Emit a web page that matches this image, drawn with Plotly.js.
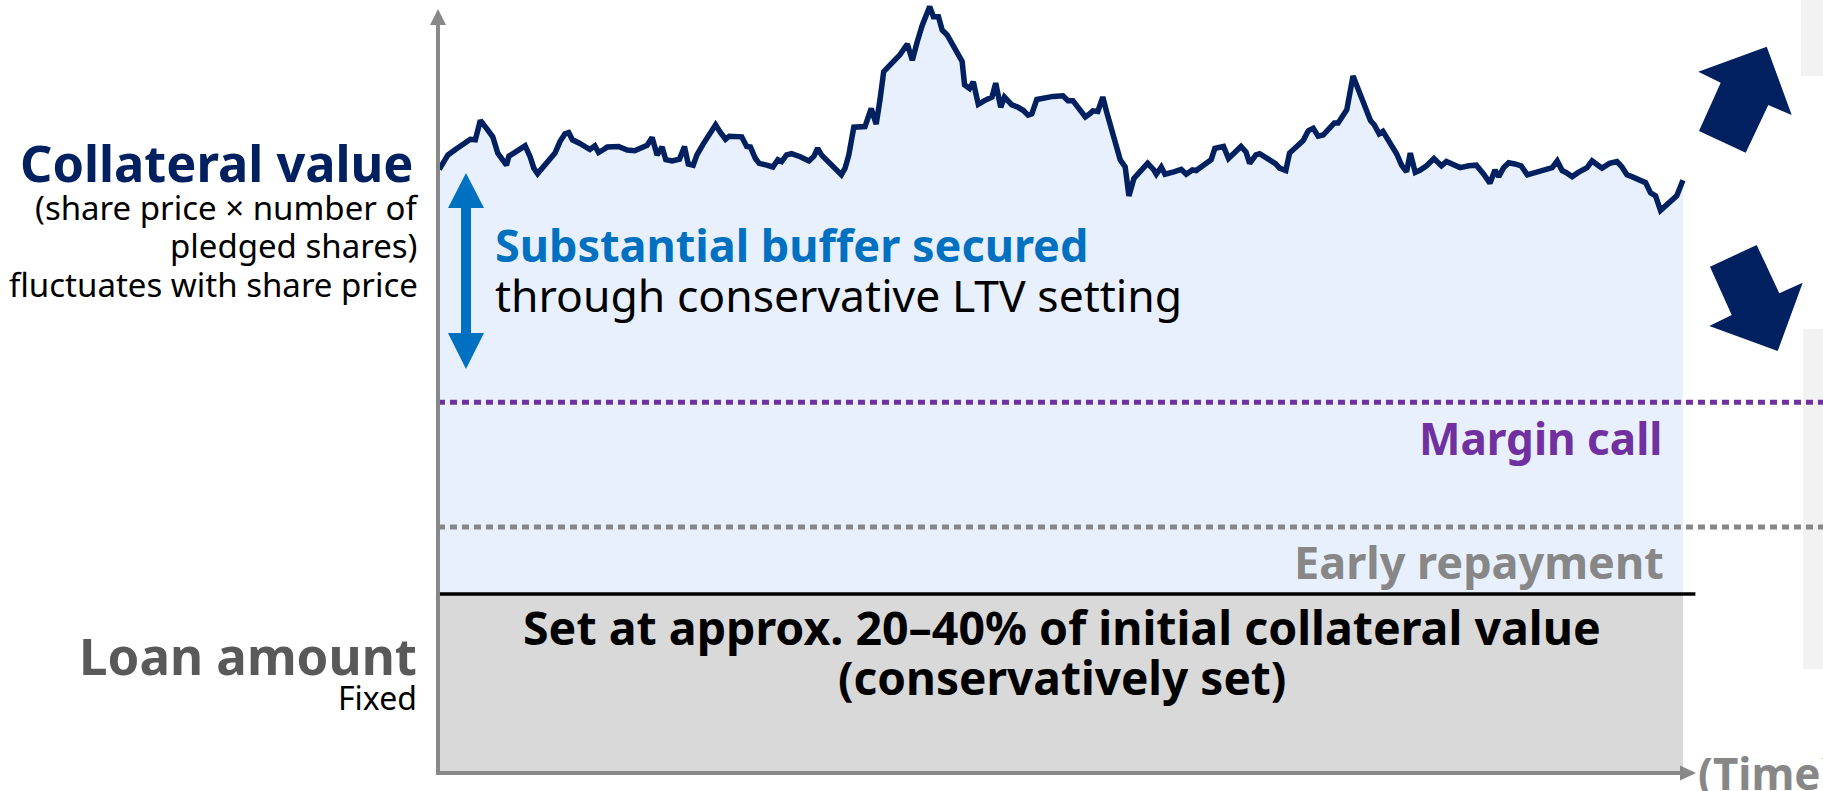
<!DOCTYPE html>
<html>
<head>
<meta charset="utf-8">
<script src="https://cdn.plot.ly/plotly-3.0.1.min.js"></script>
<style>
html,body{margin:0;padding:0;background:#ffffff;overflow:hidden}
#chart{width:1823px;height:791px}
</style>
</head>
<body>
<div id="chart"></div>
<script>
// ---------------- DATA ----------------
// time axis (arbitrary units: 0 = start, 100 = end of the drawn period)
const timePoints = [
  0.1,0.8,1.4,2.0,2.6,3.0,3.4,3.9,4.4,4.8,5.1,5.5,5.7,6.3,7.0,7.4,7.7,8.0,8.5,9.0,
  9.4,9.8,10.2,10.5,10.8,11.4,11.8,12.2,12.6,12.9,13.3,13.6,14.5,15.2,15.8,16.2,16.8,17.2,17.6,18.0,
  18.3,18.8,19.4,19.8,20.1,20.5,20.8,21.3,21.9,22.3,22.7,23.1,23.4,24.0,24.4,24.8,25.1,25.5,25.8,26.4,
  26.9,27.3,27.6,28.0,28.4,29.1,29.8,30.2,30.5,30.8,31.2,31.8,32.4,32.7,33.0,33.4,34.3,34.8,35.2,35.5,
  35.8,36.4,37.1,37.7,38.1,38.5,38.9,39.5,39.8,40.2,40.5,40.9,41.3,41.7,42.1,42.3,42.7,43.0,43.4,43.9,
  44.5,44.8,45.2,45.5,46.1,46.6,47.0,47.4,47.7,48.1,48.6,49.4,50.2,50.6,51.0,51.4,52.0,52.4,52.6,53.0,
  53.4,53.7,54.1,54.5,54.8,55.2,55.5,55.9,56.4,57.0,57.5,57.7,58.1,58.4,59.1,59.7,60.1,60.6,60.9,61.5,
  62.1,62.4,62.8,63.1,63.5,64.0,64.5,64.9,65.2,65.7,66.0,66.7,67.3,67.6,68.1,68.4,69.0,69.5,69.9,70.3,
  70.7,71.1,71.6,72.0,72.3,72.6,73.0,73.5,73.9,74.4,74.9,75.2,75.6,75.9,76.4,77.0,77.4,77.8,78.1,78.5,
  78.9,79.4,80.0,80.6,81.0,81.5,82.1,82.8,83.4,84.0,84.5,84.9,85.2,85.6,86.0,86.5,87.0,87.5,88.1,88.8,
  89.5,89.9,90.3,90.6,91.1,91.6,92.3,92.7,93.5,94.1,94.7,95.1,95.5,95.9,96.4,97.0,97.4,97.8,98.2,98.6,
  99.0,99.5,100.0
];
// collateral value (index, initial value ~ 100)
const collateralValue = [
  100.1,102.5,103.4,104.3,105.1,105.0,108.2,106.9,105.5,102.8,101.9,100.8,102.3,103.2,104.0,102.2,100.3,99.4,100.5,101.8,
  102.8,104.7,106.0,106.2,105.0,104.4,103.9,103.4,104.0,102.9,103.4,103.8,103.9,103.3,103.2,103.5,104.1,105.4,102.5,103.8,
  101.7,101.5,101.8,103.9,101.0,100.8,102.5,104.3,106.1,107.5,106.2,105.1,105.6,105.6,105.5,103.9,103.8,101.9,101.1,100.8,
  100.5,101.7,101.4,102.5,102.7,102.2,101.5,102.3,103.6,102.5,101.7,100.5,99.2,100.3,102.5,107.1,107.2,110.2,107.6,111.6,
  116.3,117.6,119.1,120.9,118.2,121.3,124.0,127.1,125.4,125.4,123.2,122.4,121.0,119.5,118.0,114.1,113.5,114.6,110.9,111.5,
  112.1,114.4,110.4,112.1,110.8,110.4,109.9,109.1,109.3,111.7,111.9,112.2,112.3,111.5,111.5,110.4,108.8,109.4,109.8,109.7,
  112.1,109.7,106.9,103.9,101.7,100.5,95.7,98.6,99.9,101.1,100.0,99.3,100.5,99.3,99.7,100.1,99.3,100.0,99.9,100.8,
  101.7,103.6,103.9,103.9,101.9,102.9,103.9,103.0,101.1,102.5,102.7,101.8,101.0,100.3,99.9,102.8,103.9,104.9,106.5,106.9,
  105.6,105.8,106.9,107.8,107.8,108.6,110.0,115.6,113.3,110.6,108.2,107.5,106.0,106.4,104.7,102.7,100.8,99.7,102.8,99.6,
  100.0,100.7,101.9,100.7,101.4,101.0,100.4,100.7,100.8,99.3,97.8,100.0,98.9,100.4,101.2,101.0,100.7,99.2,99.6,100.0,
  100.4,101.5,99.9,99.6,98.9,99.6,100.4,101.5,100.3,101.1,101.4,100.5,99.2,98.9,98.5,97.9,96.2,95.7,93.3,94.0,
  94.7,95.7,98.3
];
// fixed levels (same index units)
const loanAmount = 29.7;
const earlyRepaymentLevel = 40.8;
const marginCallLevel = 61.5;
const timeStart = 0;
const timeEnd = 100;

// texts
const collateralTitle = "Collateral value";
const collateralNotes = ["(share price \u00d7 number of", "pledged shares)", "fluctuates with share price"];
const bufferTitle = "Substantial buffer secured";
const bufferNote = "through conservative LTV setting";
const marginCallLabel = "Margin call";
const earlyRepaymentLabel = "Early repayment";
const loanNotes = ["Set at approx. 20\u201340% of initial collateral value", "(conservatively set)"];
const loanTitle = "Loan amount";
const loanSub = "Fixed";
const timeLabel = "(Time)";

// ---------------- STYLE ----------------
const W = 1823, H = 791;
const FONT = "Noto Sans";
const NAVY = "#002060", BLUE = "#0070C0", PURPLE = "#7030A0", GRAY = "#878787";
const xRange = [-35.18, 111.25];
const yRange = [-2.985, 128.19];

function P(px, py) { return (px / W).toFixed(5) + "," + (1 - py / H).toFixed(5); }
function poly(pts) { return "M" + pts.map(p => P(p[0], p[1])).join(" L") + " Z"; }
function label(text, xPx, basePx, size, color, weight, xanchor) {
  return {
    xref: "paper", yref: "paper", x: xPx / W, y: 1 - (basePx - 0.388 * size) / H,
    xanchor: xanchor, yanchor: "middle", text: text, showarrow: false, borderpad: 0,
    font: { family: FONT, size: size, color: color, weight: weight }
  };
}

const traces = [
  { // loan amount block (gray)
    x: [timeStart, timeEnd], y: [loanAmount, loanAmount], type: "scatter", mode: "lines",
    line: { width: 0, color: "rgba(0,0,0,0)" }, fill: "tozeroy", fillcolor: "#d9d9d9",
    hoverinfo: "skip", showlegend: false
  },
  { // collateral value (line + buffer area down to the loan amount)
    x: timePoints, y: collateralValue, type: "scatter", mode: "lines",
    line: { width: 5.5, color: NAVY, shape: "linear" }, fill: "tonexty", fillcolor: "#e8f0fd",
    hoverinfo: "skip", showlegend: false
  }
];

const shapes = [
  // right side light gray panels
  { type: "rect", xref: "paper", yref: "paper", x0: 1801 / W, x1: 1, y0: 1 - 76 / H, y1: 1,
    fillcolor: "#f2f2f2", line: { width: 0 }, layer: "below" },
  { type: "rect", xref: "paper", yref: "paper", x0: 1803 / W, x1: 1, y0: 1 - 669 / H, y1: 1 - 329 / H,
    fillcolor: "#f2f2f2", line: { width: 0 }, layer: "below" },
  // level lines
  { type: "line", xref: "x", yref: "y", x0: timeStart, x1: xRange[1], y0: marginCallLevel, y1: marginCallLevel,
    line: { color: PURPLE, width: 5, dash: "7px,5px" }, layer: "above" },
  { type: "line", xref: "x", yref: "y", x0: timeStart, x1: xRange[1], y0: earlyRepaymentLevel, y1: earlyRepaymentLevel,
    line: { color: GRAY, width: 5, dash: "7px,5px" }, layer: "above" },
  { type: "line", xref: "x", yref: "y", x0: timeStart, x1: timeEnd + 1, y0: loanAmount, y1: loanAmount,
    line: { color: "#000000", width: 3.5 }, layer: "above" },
  // axes
  { type: "line", xref: "x", yref: "y", x0: timeStart, x1: timeStart, y0: 0, y1: 124.3,
    line: { color: "#888888", width: 4 }, layer: "above" },
  { type: "line", xref: "x", yref: "y", x0: -0.15, x1: timeEnd - 0.2, y0: 0, y1: 0,
    line: { color: "#888888", width: 4 }, layer: "above" },
  { type: "path", xref: "paper", yref: "paper", path: poly([[438, 9], [446, 25], [430, 25]]),
    fillcolor: "#888888", line: { width: 0 }, layer: "above" },
  { type: "path", xref: "paper", yref: "paper", path: poly([[1696, 773], [1680, 765.5], [1680, 780.5]]),
    fillcolor: "#888888", line: { width: 0 }, layer: "above" },
  // blue double arrow (buffer)
  { type: "path", xref: "paper", yref: "paper",
    path: poly([[461, 208], [461, 333], [448, 333], [466, 369], [484, 333], [471, 333], [471, 208], [484, 208], [466, 173], [448, 208]]),
    fillcolor: BLUE, line: { width: 0 }, layer: "above" },
  // navy up / down arrows on the right
  { type: "path", xref: "paper", yref: "paper",
    path: poly([[1698.3, 71.7], [1766.7, 46.7], [1791.7, 115], [1768.3, 105], [1745.7, 152.7], [1699, 131], [1720.7, 82.7]]),
    fillcolor: NAVY, line: { width: 0 }, layer: "above" },
  { type: "path", xref: "paper", yref: "paper",
    path: poly([[1710, 266.7], [1756.7, 245], [1779.3, 293.3], [1802.7, 282.7], [1777.7, 351], [1709.3, 326], [1731.7, 315]]),
    fillcolor: NAVY, line: { width: 0 }, layer: "above" }
];

const annotations = [
  label(collateralTitle, 415, 182, 50.5, NAVY, 700, "right"),
  label(collateralNotes[0], 419, 220, 33, "#000000", 400, "right"),
  label(collateralNotes[1], 419, 258, 33, "#000000", 400, "right"),
  label(collateralNotes[2], 419, 297, 33, "#000000", 400, "right"),
  label(bufferTitle, 494, 262, 45, BLUE, 700, "left"),
  label(bufferNote, 494, 312, 44.5, "#000000", 400, "left"),
  label(marginCallLabel, 1663, 455, 44, PURPLE, 700, "right"),
  label(earlyRepaymentLabel, 1665, 579, 45, GRAY, 700, "right"),
  label(loanNotes[0], 1062, 645, 46.5, "#000000", 700, "center"),
  label(loanNotes[1], 1062, 695, 46, "#000000", 700, "center"),
  label(loanTitle, 418, 675, 51, "#595959", 700, "right"),
  label(loanSub, 418, 710, 32, "#000000", 400, "right"),
  label(timeLabel, 1697, 790, 44, GRAY, 700, "left")
];

const layout = {
  width: W, height: H,
  margin: { l: 0, r: 0, t: 0, b: 0, pad: 0 },
  paper_bgcolor: "#ffffff", plot_bgcolor: "rgba(0,0,0,0)",
  showlegend: false,
  xaxis: { range: xRange, visible: false, fixedrange: true },
  yaxis: { range: yRange, visible: false, fixedrange: true },
  shapes: shapes,
  annotations: annotations,
  font: { family: FONT }
};

Plotly.newPlot("chart", traces, layout, { staticPlot: true, displayModeBar: false });
</script>
</body>
</html>
